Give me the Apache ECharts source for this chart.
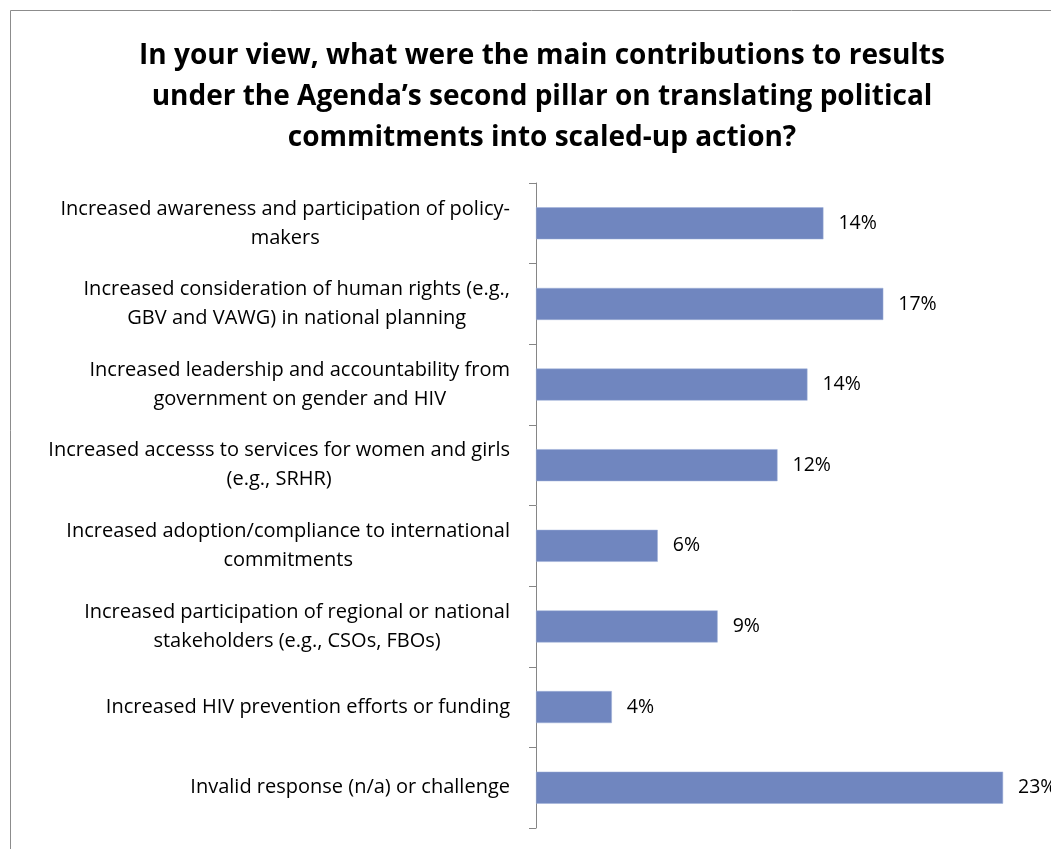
<!DOCTYPE html>
<html>
<head>
<meta charset="utf-8">
<script src="https://cdn.jsdelivr.net/npm/echarts@6/dist/echarts.min.js"></script>
<style>
html,body{margin:0;padding:0;background:#fff;}
#chart{width:1051px;height:849px;}
</style>
</head>
<body>
<div id="chart"></div>
<script>
const titleText = "In your view, what were the main contributions to results\nunder the Agenda\u2019s second pillar on translating political\ncommitments into scaled-up action?";
const categories = [
  "Increased awareness and participation of policy-\nmakers",
  "Increased consideration of human rights (e.g.,\nGBV and VAWG) in national planning",
  "Increased leadership and accountability from\ngovernment on gender and HIV",
  "Increased accesss to services for women and girls\n(e.g., SRHR)",
  "Increased adoption/compliance to international\ncommitments",
  "Increased participation of regional or national\nstakeholders (e.g., CSOs, FBOs)",
  "Increased HIV prevention efforts or funding",
  "Invalid response (n/a) or challenge"
];
const values = [14.4, 17.4, 13.6, 12.1, 6.1, 9.1, 3.8, 23.4];

const FONT = '"Open Sans", Lato, sans-serif';
const chart = echarts.init(document.getElementById('chart'));
chart.setOption({
  backgroundColor: '#ffffff',
  animation: false,
  title: {
    text: titleText,
    left: 537,
    top: 31,
    textAlign: 'center',
    textStyle: {
      fontFamily: FONT,
      fontWeight: 'bold',
      fontSize: 28,
      lineHeight: 41,
      color: '#000'
    }
  },
  graphic: [{
    type: 'rect',
    shape: {x: 10.5, y: 10.5, width: 1100, height: 900},
    style: {fill: 'none', stroke: '#8c8c8c', lineWidth: 1},
    silent: true
  }],
  grid: {left: 536, right: 16, top: 183, bottom: 21, containLabel: false},
  xAxis: {
    type: 'value',
    min: 0,
    max: 25,
    show: false
  },
  yAxis: {
    type: 'category',
    data: categories,
    inverse: true,
    axisLine: {show: true, lineStyle: {color: '#868686', width: 1}},
    axisTick: {show: true, length: 7, lineStyle: {color: '#868686'}},
    axisLabel: {
      margin: 26,
      align: 'right',
      fontFamily: FONT,
      fontSize: 20,
      lineHeight: 29,
      color: '#000',
      formatter: function (v) {
        return v.split('\n').map(function (l) { return '{c|' + l + '}'; }).join('\n');
      },
      rich: {c: {align: 'center', fontFamily: FONT, fontSize: 20, lineHeight: 29, color: '#000'}}
    }
  },
  series: [{
    type: 'bar',
    data: values,
    barWidth: 32,
    itemStyle: {color: '#7086BF', borderColor: '#9fb0d8', borderWidth: 0.5},
    label: {
      show: true,
      position: 'right',
      distance: 15,
      fontFamily: FONT,
      fontSize: 19.5,
      color: '#000',
      formatter: function (p) { return Math.round(p.value) + '%'; }
    }
  }]
});
</script>
</body>
</html>
